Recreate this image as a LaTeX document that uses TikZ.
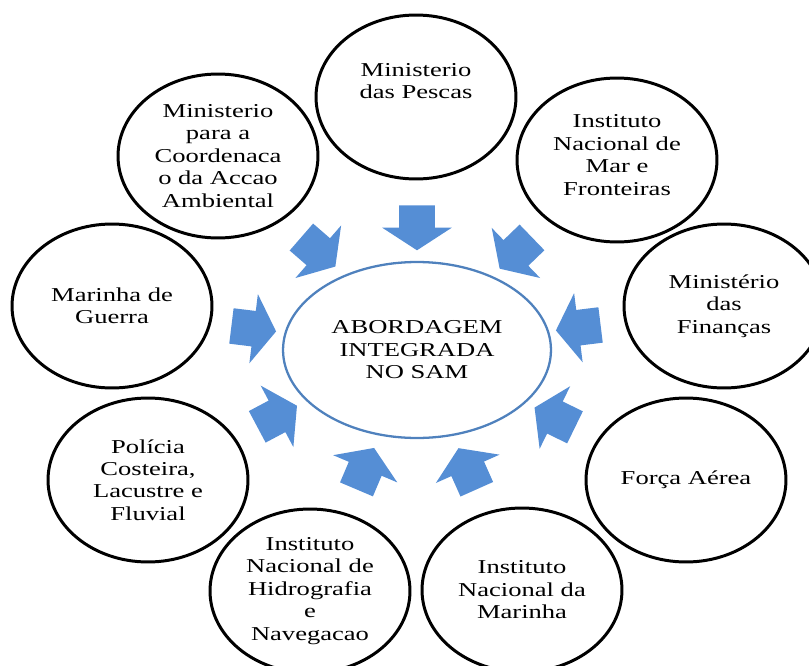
\documentclass[tikz,border=0pt]{standalone}
\usepackage{fontspec}
\setmainfont[FakeStretch=1.35]{Liberation Serif}
\usetikzlibrary{shapes.geometric,shapes.arrows}

\definecolor{samblue}{RGB}{85,142,213}
\definecolor{hubline}{RGB}{79,129,189}

\begin{document}
\begin{tikzpicture}[x=0.02cm,y=-0.02cm]
\tikzstyle{every node} = [font=\fontsize{11.2}{12.8}\selectfont, align=center]
\tikzstyle{org} = [ellipse, draw=black, line width=1.7pt, minimum width=4cm, minimum height=3.28cm, inner sep=0pt]
\tikzstyle{hub} = [ellipse, draw=hubline, line width=1.3pt, minimum width=5.36cm, minimum height=3.52cm]
\tikzstyle{inarrow} = [single arrow, fill=samblue, minimum height=0.9cm, inner xsep=0pt, inner ysep=0.35cm, single arrow head extend=0.34cm, single arrow tip angle=114]
\useasboundingbox (0,0) rectangle (809,666);

\node[hub] (sam) at (417,350) {ABORDAGEM\\INTEGRADA\\NO SAM};

\node[org, text depth=0.64cm] (pescas) at (416,97) {Ministerio\\das Pescas};
\node[org] (coord) at (218,156) {Ministerio\\para a\\Coordenaca\\o da Accao\\Ambiental};
\node[org] (guerra) at (112,306) {Marinha de\\Guerra};
\node[org] (policia) at (148,480) {Polícia\\Costeira,\\Lacustre e\\Fluvial};
\node[org] (hidro) at (310,591) {Instituto\\Nacional de\\Hidrografia\\e\\Navegacao};
\node[org] (marinha) at (522,590) {Instituto\\Nacional da\\Marinha};
\node[org] (forca) at (686,480) {Força Aérea};
\node[org] (financas) at (724,306) {Ministério\\das\\Finanças};
\node[org, text depth=0.2cm] (front) at (617,160) {Instituto\\Nacional de\\Mar e\\Fronteiras};

% arrows into the hub
\node[inarrow, rotate=-90] (a1) at (417,222) {};
\node[inarrow, rotate=-41] (a2) at (314,248) {};
\node[inarrow, rotate=-7] (a3) at (248,328) {};
\node[inarrow, rotate=28] (a4) at (272,419) {};
\node[inarrow, rotate=67] (a5) at (363,474) {};
\node[inarrow, rotate=114] (a6) at (470,474) {};
\node[inarrow, rotate=154] (a7) at (560,420) {};
\node[inarrow, rotate=187] (a8) at (584,327) {};
\node[inarrow, rotate=224] (a9) at (520,249) {};
\end{tikzpicture}
\end{document}
